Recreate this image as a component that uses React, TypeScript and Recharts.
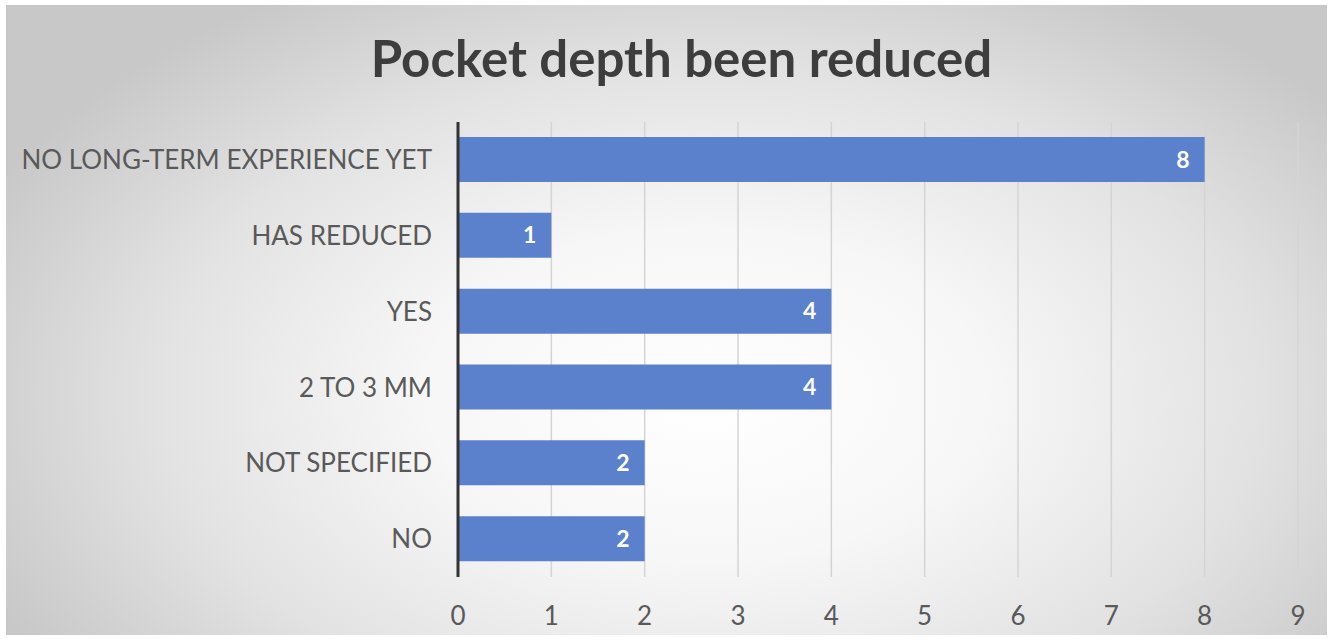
import React from "react";
import { BarChart, Bar, XAxis, YAxis, CartesianGrid, LabelList } from "recharts";

const categories = [
  "NO LONG-TERM EXPERIENCE YET",
  "HAS REDUCED",
  "YES",
  "2 TO 3 MM",
  "NOT SPECIFIED",
  "NO",
];
const counts = [8, 1, 4, 4, 2, 2];
const xTicks = [0, 1, 2, 3, 4, 5, 6, 7, 8, 9];
const title = "Pocket depth been reduced";

const data = categories.map((c, i) => ({ name: c, value: counts[i] }));

const FONT = "Lato, 'Open Sans', sans-serif";

export default function App() {
  return (
    <div
      style={{
        position: "fixed",
        left: 0,
        top: 0,
        width: 1333,
        height: 639,
        background: "#ffffff",
        fontFamily: FONT,
      }}
    >
      <div
        style={{
          position: "absolute",
          left: 6,
          top: 5,
          width: 1321,
          height: 630,
          background:
            "radial-gradient(ellipse 60% 75% at 53% 62%, #ffffff 0%, #f7f7f7 35%, #e2e2e2 70%, #c8c8c8 100%)",
        }}
      />
      <div
        style={{
          position: "absolute",
          left: 0,
          width: 1333,
          top: 27,
          textAlign: "center",
          fontSize: 51,
          fontWeight: 700,
          color: "#3d3d3d",
          lineHeight: "62px",
          paddingLeft: 30,
          boxSizing: "border-box",
        }}
      >
        {title}
      </div>
      <div style={{ position: "absolute", left: 0, top: 0 }}>
        <BarChart
          width={1333}
          height={639}
          data={data}
          layout="vertical"
          margin={{ top: 122, right: 35, bottom: 0, left: 0 }}
        >
          <CartesianGrid horizontal={false} vertical={true} stroke="#d4d4d4" strokeWidth={1.5} />
          <XAxis
            type="number"
            domain={[0, 9]}
            ticks={xTicks}
            axisLine={false}
            tickLine={false}
            tickMargin={24}
            height={62}
            interval={0}
            tick={{ fill: "#595959", fontSize: 26, fontFamily: FONT }}
          />
          <YAxis
            type="category"
            dataKey="name"
            width={458}
            axisLine={{ stroke: "#333333", strokeWidth: 3 }}
            tickLine={false}
            tickMargin={20}
            interval={0}
            tick={{ fill: "#595959", fontSize: 26, fontFamily: FONT }}
          />
          <Bar dataKey="value" fill="#5b80cc" barSize={45} isAnimationActive={false}>
            <LabelList
              dataKey="value"
              position="insideRight"
              offset={15}
              fill="#ffffff"
              style={{ fontSize: 23, fontWeight: 700, fontFamily: FONT }}
            />
          </Bar>
        </BarChart>
      </div>
    </div>
  );
}
